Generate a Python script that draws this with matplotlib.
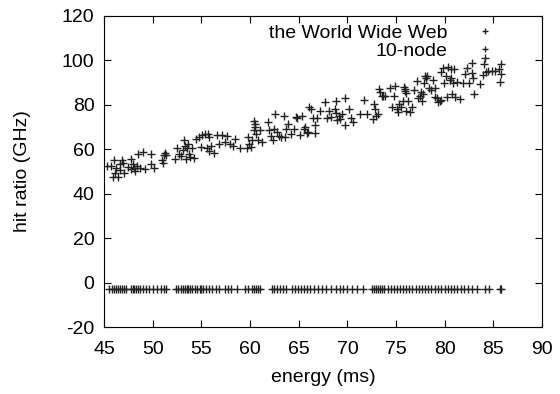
import matplotlib
matplotlib.use('Agg')
import matplotlib.pyplot as plt
import numpy as np

plt.rcParams['font.family'] = ['Liberation Sans', 'DejaVu Sans']
plt.rcParams['axes.unicode_minus'] = False

# the World Wide Web series (energy ms, hit ratio GHz)
www_x = [45.3, 45.7, 46.0, 46.2, 46.4, 46.6, 46.8, 47.0, 46.6, 46.1, 45.9, 46.9,
         47.8, 48.0, 48.1, 48.4, 48.7, 48.5, 49.0, 49.2, 49.8, 49.8, 50.1, 48.2,
         47.8, 47.5,
         50.9, 51.1, 51.3, 51.4, 51.0, 52.3, 52.5, 52.7, 52.9, 53.1, 53.2, 53.3,
         53.4, 53.5, 53.6, 53.7, 53.8, 54.2, 54.0, 54.4, 54.7, 54.9, 55.1, 55.4,
         55.7, 55.8, 55.6, 55.8, 56.0, 56.3, 56.6, 56.8, 57.1, 57.4, 57.6, 57.9,
         58.4, 58.2, 59.0, 59.7, 59.8, 59.9, 60.1, 60.4, 60.4, 60.5, 60.6, 60.5,
         60.2, 60.8, 61.0, 61.2,
         61.8, 61.9, 62.1, 62.3, 62.6, 62.5, 62.8, 63.0, 63.2, 63.5, 63.6, 63.7,
         63.9, 64.2, 64.5, 64.7, 64.8, 65.1, 65.3, 65.5, 65.6, 65.8, 65.9, 66.1,
         66.3, 66.5, 66.7, 66.7, 66.9, 67.2, 67.7, 67.9, 68.1, 68.3, 68.7, 68.8,
         68.8, 68.9, 69.1, 69.2, 69.4, 69.7, 69.7, 70.2, 70.4, 70.6, 71.3, 71.7,
         72.0, 72.6, 72.7, 72.8, 72.9, 73.1, 73.2, 73.3, 73.5, 73.7, 73.9, 74.4,
         74.6, 74.8, 74.9, 75.1, 75.2, 75.3, 75.5, 75.7, 75.8, 75.9, 75.9, 76.0,
         76.0, 76.2, 76.4, 76.6, 76.8, 77.1, 77.3, 77.5, 77.6, 77.7, 77.8, 77.9,
         78.0, 78.1, 78.2, 78.4, 78.6, 78.8, 79.0, 79.0, 79.2, 79.3, 79.5, 79.6,
         79.6, 79.8, 79.9, 80.1, 80.2, 80.3, 80.5, 80.6, 80.6, 80.7, 80.8, 81.0,
         81.1, 81.3, 81.6, 81.9, 82.1, 82.3, 82.5, 82.8, 82.8, 82.9, 83.0, 83.6,
         83.9, 84.0, 84.1, 84.2, 84.4, 84.9, 85.2, 85.6, 85.8, 85.8, 85.7]
www_y = [52.6, 52.6, 55.1, 51.4, 47.7, 50.6, 55.1, 49.1, 53.1, 49.1, 47.7, 53.6,
         55.4, 53.3, 51.4, 52.6, 51.4, 57.6, 58.8, 50.9, 57.7, 53.3, 51.4, 50.3,
         50.9, 52.1,
         55.1, 57.3, 58.3, 57.3, 53.6, 55.4, 60.3, 58.0, 56.9, 59.5, 64.0, 61.3,
         55.4, 60.3, 62.5, 58.0, 56.6, 55.8, 60.3, 64.7, 65.5, 61.0, 66.2, 66.7,
         67.0, 65.5, 60.3, 59.2, 61.3, 58.3, 66.2, 62.2, 66.2, 63.2, 65.8, 62.2,
         64.7, 61.3, 60.3, 60.3, 65.5, 62.5, 61.0, 68.7, 72.6, 71.4, 67.0, 69.9,
         64.0, 64.0, 68.7, 63.2,
         72.1, 68.4, 65.8, 64.0, 75.6, 69.2, 67.7, 65.8, 65.5, 74.8, 65.5, 69.2,
         71.4, 67.0, 69.2, 74.4, 74.1, 66.2, 74.7, 69.2, 69.9, 67.3, 67.7, 78.8,
         78.1, 74.1, 67.3, 70.7, 74.1, 77.3, 81.1, 74.1, 77.3, 74.4, 78.1, 76.2,
         81.8, 72.9, 75.1, 73.6, 75.9, 83.0, 70.7, 78.1, 74.1, 72.1, 75.9, 82.1,
         75.9, 73.6, 80.3, 78.1, 75.1, 75.9, 87.0, 85.5, 84.0, 84.0, 84.0, 87.7,
         78.8, 84.0, 88.5, 78.1, 76.6, 80.3, 79.1, 81.8, 88.0, 87.0, 86.0, 85.1,
         77.3, 81.8, 76.6, 78.8, 86.5, 90.7, 83.0, 84.0, 85.5, 81.8, 84.8, 89.9,
         92.9, 92.2, 92.9, 87.4, 86.5, 91.0, 87.7, 83.3, 83.0, 81.1, 81.8, 94.9,
         82.1, 96.6, 89.9, 92.9, 83.3, 96.9, 91.0, 95.9, 91.9, 84.8, 89.9, 95.9,
         83.3, 90.4, 82.5, 89.9, 93.7, 96.6, 89.9, 94.4, 98.9, 92.2, 84.8, 89.2,
         93.4, 98.1, 101.1, 94.9, 95.2, 95.2, 95.2, 95.9, 98.1, 93.7, 90.0]

# 10-node series: all points sit on one flat level
ten_node_x = [45.5, 45.8, 46.0, 46.2, 46.4, 46.6, 46.8, 47.0, 47.2, 47.8, 48.0,
              48.1, 48.3, 48.5, 48.7, 49.0, 49.3, 49.6, 50.0, 50.4, 50.8, 51.2,
              51.4, 52.4, 52.6, 52.9, 53.1, 53.3, 53.5, 53.6, 53.8, 54.0, 54.3,
              54.5, 54.8, 55.0, 55.2, 55.5, 55.8, 56.1, 56.5, 56.8, 57.4, 57.7,
              58.0, 58.6, 59.5, 59.8, 60.2, 60.4, 60.6, 60.8, 61.0, 62.2, 62.5,
              62.8, 63.1, 63.4, 63.7, 64.3, 64.6, 64.9, 65.2, 65.5, 65.8, 66.2,
              66.6, 67.0, 67.4, 67.8, 68.3, 68.8, 69.2, 69.5, 70.0, 70.5, 71.0,
              71.6, 72.5, 72.7, 72.9, 73.1, 73.3, 73.5, 73.8, 74.2, 74.5, 74.8,
              75.1, 75.4, 75.7, 76.0, 76.3, 76.6, 77.0, 77.4, 77.7, 78.0, 78.3,
              78.6, 79.0, 79.3, 79.6, 80.0, 80.3, 80.6, 80.9, 81.3, 81.7, 82.0,
              82.4, 82.8, 83.3, 84.1, 84.5, 85.7, 85.8]
ten_node_level = -3.0

fig = plt.figure(figsize=(5.6, 3.94), dpi=100)
ax = fig.add_axes([0.186, 0.170, 0.782, 0.790])

mk = dict(marker='+', linestyle='none', color='#222222', markersize=6, markeredgewidth=1.0)
ax.plot(www_x, www_y, label='the World Wide Web', **mk)
ax.plot(ten_node_x, np.full(len(ten_node_x), ten_node_level), label='10-node', **mk)

ax.set_xlim(45, 90)
ax.set_ylim(-20, 120)
ax.set_xticks(np.arange(45, 91, 5))
ax.set_yticks(np.arange(-20, 121, 20))
ax.tick_params(direction='in', top=True, right=True, length=5, labelsize=14)
ax.tick_params(axis='x', pad=10)
ax.tick_params(axis='y', pad=7)
ax.set_xlabel('energy (ms)', fontsize=14, labelpad=8)
ax.set_ylabel('hit ratio (GHz)', fontsize=14, labelpad=22)

leg = ax.legend(loc='upper right', frameon=False, markerfirst=False, fontsize=14,
                handlelength=1.5, handletextpad=1.2, borderaxespad=0.2, labelspacing=0.0,
                markerscale=0.8, bbox_to_anchor=(0.93, 1.01))

fig.savefig('out.png', dpi=100)
